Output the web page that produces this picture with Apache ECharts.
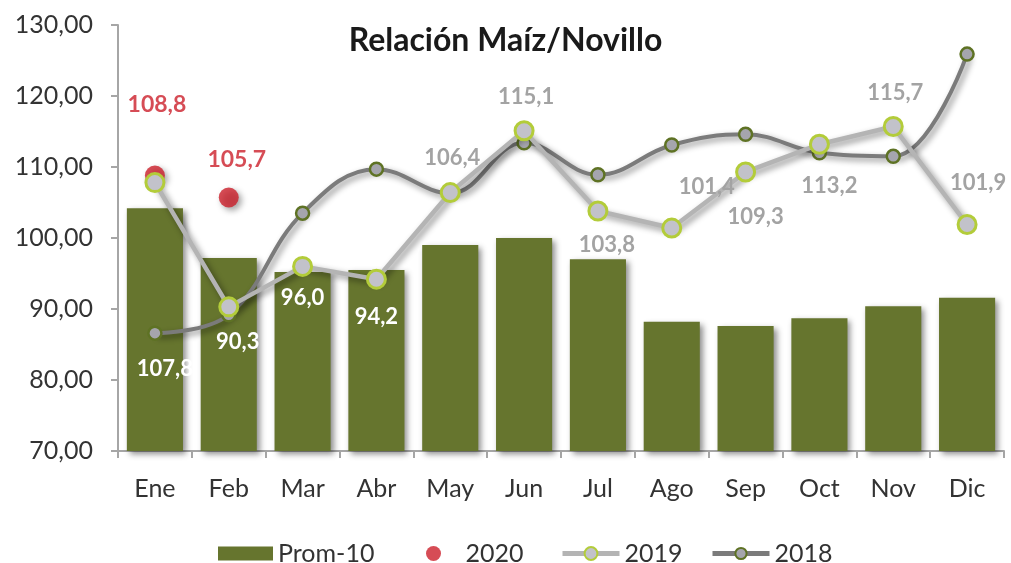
<!DOCTYPE html>
<html>
<head>
<meta charset="utf-8">
<script src="https://cdn.jsdelivr.net/npm/echarts@6/dist/echarts.min.js"></script>
<style>
  html, body { margin: 0; padding: 0; background: #fff; }
  #chart { width: 1011px; height: 563px; }
</style>
</head>
<body>
<div id="chart"></div>
<script>
// datos
const months = ['Ene', 'Feb', 'Mar', 'Abr', 'May', 'Jun', 'Jul', 'Ago', 'Sep', 'Oct', 'Nov', 'Dic']
const prom10 = [104.2, 97.2, 95.2, 95.5, 99.0, 100.0, 97.0, 88.2, 87.6, 88.7, 90.4, 91.6]
const y2020 = [108.8, 105.7, null, null, null, null, null, null, null, null, null, null]
const y2019 = [107.8, 90.3, 96.0, 94.2, 106.4, 115.1, 103.8, 101.4, 109.3, 113.2, 115.7, 101.9]
const y2018 = [86.6, 89.2, 103.5, 109.7, 106.3, 113.4, 108.9, 113.1, 114.6, 112.0, 111.5, 125.9]

// posición de etiquetas (como en el original)
const off2019 = [[10, 186], [9, 35], [0, 32], [0, 38], [2, -35], [2, -34], [9, 34], [35, -41], [10, 45], [10, 42], [2, -34], [11, -42]]
const off2020 = [[2, -71], [8, -38]]

const fontFam = 'Lato, "Open Sans", sans-serif'
const red = '#cc1f2b'
const fmt1 = v => v.toFixed(1).replace('.', ',')
const shadow = {
  shadowColor: 'rgba(0,0,0,0.45)',
  shadowBlur: 6,
  shadowOffsetX: 3,
  shadowOffsetY: 3
}

const chart = echarts.init(document.getElementById('chart'))

const data2019 = y2019.map((v, i) => ({
  value: v,
  label: {
    offset: off2019[i],
    color: i < 4 ? '#ffffff' : '#a3a3a3'
  }
}))
const data2020 = y2020.map((v, i) => (v === null ? null : {
  value: v,
  label: { offset: off2020[i] }
}))

// una leyenda por item para colocarlas como en el original
const legendText = { fontFamily: fontFam, fontSize: 25, color: '#333333' }
const mkLegend = (name, left, w, h, extra) => Object.assign({
  data: [name],
  left: left,
  top: 536,
  itemWidth: w,
  itemHeight: h,
  textStyle: legendText
}, extra || {})

const options = {
  animation: false,
  title: {
    text: 'Relación Maíz/Novillo',
    left: 'center',
    top: 20,
    textStyle: { fontFamily: fontFam, fontSize: 32, fontWeight: 'bold', color: '#1a1a1a' }
  },
  legend: [
    mkLegend('Prom-10', 213, 55, 14, { icon: 'rect' }),
    mkLegend('2020', 421, 54, 15, { icon: 'circle' }),
    mkLegend('2019', 555, 57, 16, { lineStyle: { width: 5, shadowBlur: 0, shadowOffsetX: 0, shadowOffsetY: 0 } }),
    mkLegend('2018', 705, 57, 14, { lineStyle: { width: 5, shadowBlur: 0, shadowOffsetX: 0, shadowOffsetY: 0 } })
  ],
  grid: { left: 118, right: 7, top: 25, bottom: 112 },
  xAxis: {
    type: 'category',
    data: months,
    axisLine: { lineStyle: { color: '#a6a6a6', width: 2 } },
    axisTick: { show: true, length: 7, lineStyle: { color: '#a6a6a6', width: 2 } },
    axisLabel: { fontFamily: fontFam, fontSize: 25, color: '#333333', margin: 25 }
  },
  yAxis: {
    type: 'value',
    min: 70,
    max: 130,
    interval: 10,
    axisLine: { show: true, lineStyle: { color: '#a6a6a6', width: 2 } },
    axisTick: { show: true, length: 7, lineStyle: { color: '#a6a6a6', width: 2 } },
    splitLine: { show: false },
    axisLabel: {
      fontFamily: fontFam, fontSize: 25, color: '#333333', margin: 25,
      formatter: v => v.toFixed(2).replace('.', ',')
    }
  },
  series: [
    {
      name: 'Prom-10',
      type: 'bar',
      data: prom10,
      barCategoryGap: '24%',
      itemStyle: Object.assign({ color: '#66752e' }, shadow)
    },
    {
      name: '2018',
      type: 'line',
      data: y2018,
      smooth: 0.4,
      symbol: 'circle',
      symbolSize: 13,
      lineStyle: Object.assign({ color: '#7b7b7b', width: 4 }, shadow),
      itemStyle: { color: '#a5a5ad', borderColor: '#5e7224', borderWidth: 2.5 },
      z: 3
    },
    {
      name: '2019',
      type: 'line',
      data: data2019,
      symbol: 'circle',
      symbolSize: 18,
      lineStyle: Object.assign({ color: '#b4b4b4', width: 4.5 }, shadow),
      itemStyle: { color: '#c2c2ca', borderColor: '#b3cc3a', borderWidth: 3 },
      label: {
        show: true,
        position: 'inside',
        formatter: p => fmt1(p.value),
        fontFamily: fontFam,
        fontSize: 22,
        fontWeight: 'bold'
      },
      z: 4
    },
    {
      name: '2020',
      type: 'scatter',
      data: data2020,
      symbol: 'circle',
      symbolSize: 20,
      itemStyle: Object.assign({ color: red }, shadow),
      label: {
        show: true,
        position: 'inside',
        formatter: p => fmt1(p.value),
        fontFamily: fontFam,
        fontSize: 23,
        fontWeight: 'bold',
        color: red
      },
      z: 2
    }
  ]
}

chart.setOption(options)
</script>
</body>
</html>
